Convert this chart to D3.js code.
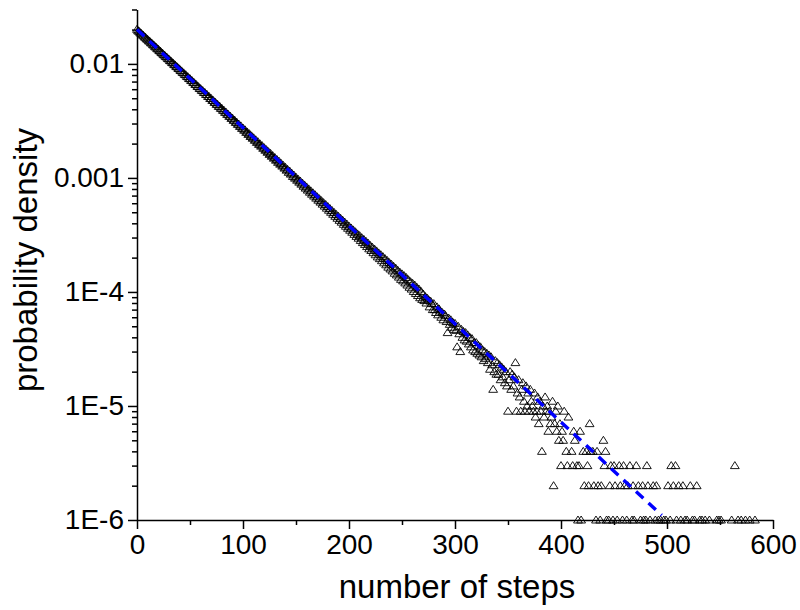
<!DOCTYPE html>
<html>
<head>
<meta charset="utf-8">
<script src="https://cdn.jsdelivr.net/npm/d3@7"></script>
<style>
  html, body { margin: 0; padding: 0; background: #fff; }
  svg { display: block; }
  text { font-family: "Liberation Sans", Arial, sans-serif; fill: #000; }
</style>
</head>
<body>
<svg id="chart" width="800" height="610"></svg>
<script>
// ---- data (counts per 1e6 samples; density = count * 1e-6) ----
const denseCounts = [
  20110,19520,19300,18760,18540,18010,17820,17300,17110,16650,
  16420,15980,15810,15360,15190,14760,14590,14170,14020,13610,
  13480,13090,12950,12570,12430,12070,11950,11600,11490,11140,
  11040,10700,10610,10280,10190,9870,9790,9480,9410,9110,
  9050,8750,8690,8410,8350,8080,8030,7760,7710,7450,
  7410,7160,7120,6880,6840,6600,6580,6340,6320,6090,
  6070,5860,5830,5620,5610,5400,5390,5190,5180,4980,
  4980,4790,4780,4600,4600,4420,4420,4240,4250,4080,
  4080,3920,3920,3760,3770,3610,3620,3470,3480,3330,
  3350,3200,3220,3070,3090,2950,2970,2830,2860,2720,
  2740,2620,2640,2510,2530,2410,2440,2310,2340,2230,
  2250,2140,2160,2050,2080,1970,1990,1900,1920,1820,
  1840,1750,1770,1680,1700,1610,1640,1550,1570,1490,
  1510,1430,1450,1370,1400,1320,1340,1270,1290,1220,
  1240,1170,1190,1120,1150,1080,1100,1030,1060,995,
  1015,955,975,918,940,882,902,846,868,814,
  834,782,801,750,770,720,740,693,712,665,
  683,638,657,614,632,589,607,566,584,543,
  561,521,539,500,518,480,498,461,479,443,
  461,425,443,409,426,392,410,377,394,362,
  378,348,364,334,350,320,337,307,323,296,
  312,283,299,271,289,261,278,250,268,239,
  256,231,247,221,238,212,229,203,220,196,
  212,188,204,180,196,173,189,165,181,159,
  175,153,168,146,162,141,155,135,149,129,
  144,125,139,120,134,115,128,110,123,106,
  119,101,115,97,110,93,106,89,101,86,
  96,84,91,80,88,85,74,83,79,70,
  79,70,66,74,63,71,68,60,66,57,
  64,62,55,44,59,52,57,49,54,47,
  53,46,33,50,43,30,47,40,45,38,
  44,37,42,35,40,33,39,31,36,30,
  36,29,34,28,33,27,31,25,30,26,
  29,24,28,21,27,23,14,20,25,19,
  24,19,23,17,22,18,21,16,20,15,
  9,17,20,14,19,15,18,24,9,13,
  17,12,9,14,16,11,9,15,10,13,
  9,14,11,10,9,13,8,9,12,7,
  11,9,4,10,8,12,9,10,6,9
];
const tailSteps = [390,391,392,393,394,395,396,397,398,399,400,401,402,403,405,406,407,410,411,412,413,415,416,417,418,419,421,422,424,425,426,427,428,430,431,433,434,435,437,438,440,441,442,443,445,446,447,449,450,451,453,455,456,458,459,460,462,463,465,467,468,469,471,473,475,477,478,480,481,482,484,487,489,490,492,494,497,499,501,503,504,506,508,509,511,513,515,517,519,522,524,526,528,531,533,536,540,547,549,551,561,564,567,570,574,578,583];
const tailCounts = [7,8,11,2,7,9,6,10,5,7,3,6,5,9,4,3,8,4,3,6,5,3,1,3,6,1,4,2,4,3,2,7,4,4,2,1,4,2,1,2,5,3,4,1,1,2,3,1,3,2,1,3,2,1,3,2,1,2,3,1,2,1,3,2,1,2,1,1,3,2,1,2,1,2,1,1,1,1,2,1,3,2,3,1,2,1,2,1,1,2,1,1,2,1,1,1,1,1,1,1,1,3,1,1,1,1,1];

// fitted exponential (straight on log axis): end points
const fitSteps = [0, 495];
const fitDensity = [0.02, 1.1e-6];

const xTicks = [0, 100, 200, 300, 400, 500, 600];
const xMinorTicks = [50, 150, 250, 350, 450, 550];
const yTicks = [1e-6, 1e-5, 1e-4, 1e-3, 1e-2];
const yTickLabels = ["1E-6", "1E-5", "1E-4", "0.001", "0.01"];
const xTitle = "number of steps";
const yTitle = "probability density";

// ---- build point table ----
const points = [];
denseCounts.forEach((c, i) => { if (c > 0) points.push({ x: i, y: c * 1e-6 }); });
tailSteps.forEach((s, i) => points.push({ x: s, y: tailCounts[i] * 1e-6 }));

// ---- layout ----
const svg = d3.select("#chart");
const x = d3.scaleLinear().domain([0, 600]).range([137, 773]);
const y = d3.scaleLog().domain([1e-6, 0.03]).range([520, 9.5]);

const yMinor = [];
for (let e = -6; e <= -2; e++) {
  for (let m = 2; m <= 9; m++) {
    const v = m * Math.pow(10, e);
    if (v <= 0.0300001) yMinor.push(v);
  }
}

// minor ticks
svg.append("g").attr("transform", `translate(0,${y(1e-6)})`)
  .call(d3.axisBottom(x).tickValues(xMinorTicks).tickSize(5).tickFormat(""))
  .call(g => g.select(".domain").remove())
  .selectAll("line").attr("stroke", "#000").attr("stroke-width", 1.5);
svg.append("g").attr("transform", `translate(${x(0)},0)`)
  .call(d3.axisLeft(y).tickValues(yMinor).tickSize(5).tickFormat(""))
  .call(g => g.select(".domain").remove())
  .selectAll("line").attr("stroke", "#000").attr("stroke-width", 1.5);

// major axes
const xAxis = svg.append("g").attr("transform", `translate(0,${y(1e-6)})`)
  .call(d3.axisBottom(x).tickValues(xTicks).tickSize(9).tickSizeOuter(0).tickPadding(5));
const yAxis = svg.append("g").attr("transform", `translate(${x(0)},0)`)
  .call(d3.axisLeft(y).tickValues(yTicks).tickSize(9).tickSizeOuter(0).tickPadding(4)
    .tickFormat((d, i) => yTickLabels[i]));
[xAxis, yAxis].forEach(g => {
  g.select(".domain").attr("stroke", "#000").attr("stroke-width", 1.5);
  g.selectAll(".tick line").attr("stroke", "#000").attr("stroke-width", 1.5);
  g.selectAll(".tick text").attr("font-size", 28)
    .attr("font-family", "'Liberation Sans', Arial, sans-serif").attr("fill", "#000");
});

// points (open triangles)
const tri = "M0,-4L4.4,3L-4.4,3Z";
svg.append("g").selectAll("path").data(points).join("path")
  .attr("d", tri)
  .attr("transform", d => `translate(${x(d.x)},${y(d.y)})`)
  .attr("fill", "none").attr("stroke", "#000").attr("stroke-width", 0.9);

// fit line
const fitData = fitSteps.map((s, i) => ({ x: s, y: fitDensity[i] }));
svg.append("path").datum(fitData)
  .attr("d", d3.line().x(d => x(d.x)).y(d => y(d.y)))
  .attr("fill", "none").attr("stroke", "#0000ff").attr("stroke-width", 3.4)
  .attr("stroke-dasharray", "10,7");

// titles
svg.append("text").attr("x", 457).attr("y", 598).attr("text-anchor", "middle")
  .attr("font-size", 33).text(xTitle);
svg.append("text").attr("transform", "translate(37,260) rotate(-90)")
  .attr("text-anchor", "middle").attr("font-size", 33).text(yTitle);
</script>
</body>
</html>
